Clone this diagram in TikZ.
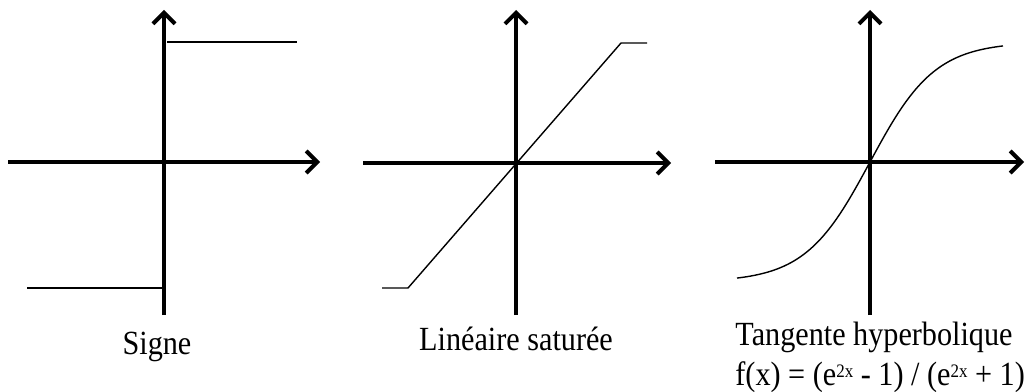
\documentclass[tikz,border=0pt]{standalone}
\usepackage{fontspec}
\setmainfont{Liberation Serif}
\usetikzlibrary{arrows.meta}
\newcommand{\expo}[1]{\raisebox{3.3pt}{\fontsize{8.5}{9}\selectfont #1}}
\tikzset{
  axis/.style={-{Straight Barb[length=5.5pt,width=11pt]}, line width=2pt},
  curve/.style={line width=0.7pt},
  caption/.style={font=\fontsize{15.1}{18}\selectfont, inner sep=0pt,
    yscale=1.12, transform shape}
}

\begin{document}
\begin{tikzpicture}[x=0.5pt,y=0.5pt]
\useasboundingbox (0,0) rectangle (1036,391);

% Signe
\coordinate (sgnS) at (164,76);
\coordinate (sgnN) at (164,381);
\coordinate (sgnW) at (8,229);
\coordinate (sgnE) at (320,229);
\draw[axis] (sgnW) -- (sgnE);
\draw[axis] (sgnS) -- (sgnN);
\draw[curve] (167,349) -- (297,349);
\draw[curve] (27,103) -- (163,103);
\node[caption, anchor=base] (sgnlab) at (157,37) {Signe};

% Lineaire saturee
\coordinate (linS) at (516,76);
\coordinate (linN) at (516,381);
\coordinate (linW) at (363,228);
\coordinate (linE) at (671,228);
\draw[axis] (linW) -- (linE);
\draw[axis] (linS) -- (linN);
\draw[curve] (382,103) -- (408,103) -- (621,348) -- (647,348);
\node[caption, anchor=base] (linlab) at (516,41) {Linéaire saturée};

% Tangente hyperbolique
\coordinate (tanS) at (870,76);
\coordinate (tanN) at (870,381);
\coordinate (tanW) at (715,229);
\coordinate (tanE) at (1024,229);
\draw[axis] (tanW) -- (tanE);
\draw[axis] (tanS) -- (tanN);
\draw[curve] plot[domain=-133:133, samples=80, smooth] ({870+\x},{229+120*tanh(\x/65)});
\node[caption, anchor=base west] (tanlab) at (735,46) {Tangente hyperbolique};
\node[caption, anchor=base west] (tanfun) at (735,6)
  {f(x) = (e\expo{2x} - 1) / (e\expo{2x} + 1)};

\end{tikzpicture}
\end{document}
